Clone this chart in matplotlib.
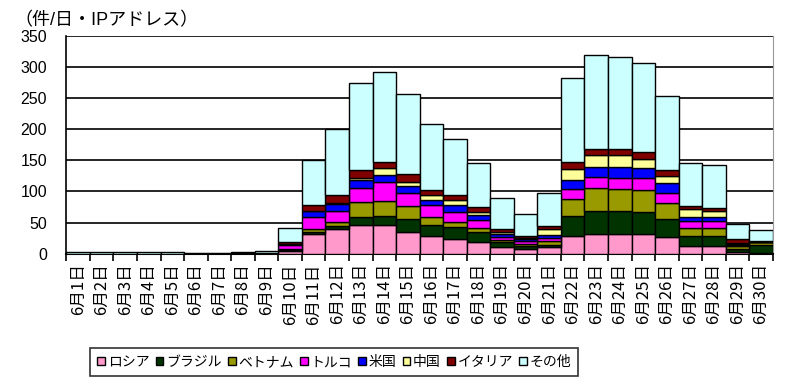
import numpy as np
import matplotlib
matplotlib.use('Agg')
from matplotlib import pyplot as plt

plt.rcParams['font.family'] = ['Liberation Sans', 'Noto Sans CJK JP', 'DejaVu Sans']

days = ['6月%d日' % d for d in range(1, 31)]
series = ['ロシア', 'ブラジル', 'ベトナム', 'トルコ', '米国', '中国', 'イタリア', 'その他']
colors = ['#FF99CC', '#003300', '#999900', '#FF00FF', '#0000FF', '#FFFF99', '#800000', '#CCFFFF']

russia  = [0, 0, 0, 0, 0, 0, 0, 0, 0, 4, 31, 39, 46, 46, 35, 28, 24, 19, 10, 7, 10, 28, 31, 31, 31, 27, 13, 13, 3, 1]
brazil  = [0, 0, 0, 0, 0, 0, 0, 1, 1, 2, 3, 5, 13, 14, 21, 18, 19, 15, 8, 5, 4, 32, 38, 37, 36, 28, 16, 16, 5, 13]
vietnam = [0, 0, 0, 0, 0, 0, 0, 0, 0, 1, 6, 7, 24, 24, 20, 13, 8, 8, 4, 4, 6, 28, 36, 36, 36, 27, 13, 13, 5, 4]
turkey  = [0, 0, 0, 0, 0, 0, 0, 0, 0, 7, 19, 17, 23, 31, 21, 19, 16, 12, 5, 5, 5, 16, 18, 18, 18, 16, 10, 10, 1, 0.5]
usa     = [0, 0, 0, 0, 0, 0, 0, 0, 0, 1, 9, 12, 12, 11, 12, 9, 11, 8, 5, 3, 5, 15, 17, 18, 16, 15, 7, 7, 1, 0.5]
china   = [0, 0, 0, 0, 0, 0, 0, 0, 0, 1, 1, 1, 4, 11, 7, 7, 8, 5, 3, 1, 10, 17, 18, 18, 16, 12, 12, 10, 2, 0]
italy   = [0, 0, 0, 0, 0, 0, 0, 0, 0, 3, 9, 14, 12, 11, 12, 9, 8, 8, 5, 4, 5, 11, 11, 11, 11, 10, 5, 5, 6, 1]
other   = [2, 2, 2, 2, 2, 1, 1, 2, 4, 22, 73, 106, 141, 144, 129, 106, 91, 70, 49, 35, 53, 136, 150, 147, 142, 119, 69, 69, 24, 18]

data = [russia, brazil, vietnam, turkey, usa, china, italy, other]

fig = plt.figure(figsize=(8, 3.92), dpi=100)
ax = fig.add_axes([0.083, 0.353, 0.883, 0.555])

x = np.arange(len(days))
bottom = np.zeros(len(days))
for name, vals, c in zip(series, data, colors):
    ax.bar(x, vals, width=1.0, bottom=bottom, color=c, edgecolor='black',
           linewidth=1.0, label=name, zorder=3)
    bottom += np.array(vals)

ax.set_xlim(-0.5, len(days) - 0.5)
ax.set_ylim(0, 350)
ax.set_yticks(range(0, 351, 50))
ax.yaxis.grid(True, color='black', linewidth=1.2, zorder=0)
ax.tick_params(axis='y', length=0, labelsize=11.5, pad=14)

ax.set_xticks(np.arange(-0.5, len(days), 1.0))
ax.set_xticklabels([])
ax.set_xticks(x, minor=True)
ax.set_xticklabels(days, minor=True, rotation=90)
for lbl in ax.get_xticklabels(minor=True):
    lbl.set_fontsize(12)
    lbl.set_family(['Noto Sans CJK JP', 'DejaVu Sans'])
ax.tick_params(axis='x', which='major', direction='out', length=5, width=1.2)
ax.tick_params(axis='x', which='minor', length=0, pad=7)

ax.spines['top'].set_visible(False)
ax.spines['right'].set_color('#999999')
ax.spines['left'].set_linewidth(1.2)
ax.spines['bottom'].set_linewidth(1.5)

fig.text(0.018, 0.948, '（件/日・IPアドレス）', fontsize=13, ha='left', va='center')

leg = fig.legend(loc='center', bbox_to_anchor=(0.418, 0.076), ncol=8, fontsize=10,
                 frameon=True, fancybox=False, edgecolor='black', handlelength=0.55,
                 handleheight=0.55, handletextpad=0.2, columnspacing=0.45,
                 borderpad=0.5)
leg.get_frame().set_linewidth(1.2)

fig.savefig('out.png', dpi=100)
